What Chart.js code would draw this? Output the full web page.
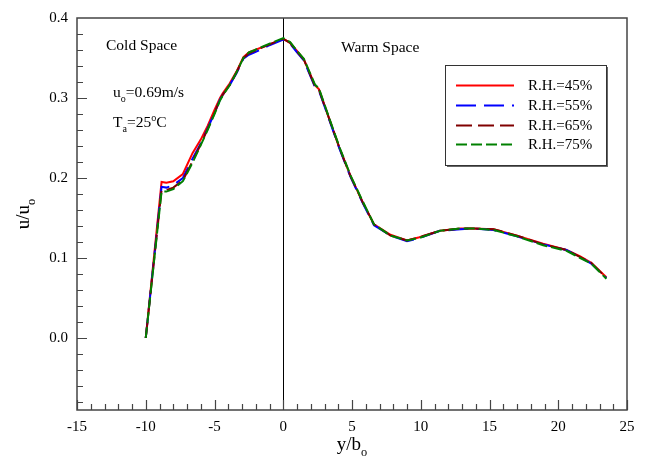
<!DOCTYPE html>
<html>
<head>
<meta charset="utf-8">
<script src="https://cdn.jsdelivr.net/npm/chart.js@4/dist/chart.umd.min.js"></script>
<style>
  html, body { margin: 0; padding: 0; background: #fff; }
  canvas { display: block; }
</style>
</head>
<body>
<canvas id="c" width="650" height="457" style="width:650px;height:457px"></canvas>
<script>
// ---- data ----
const xTickLabels = [-15, -10, -5, 0, 5, 10, 15, 20, 25];
const yTickLabels = [0.0, 0.1, 0.2, 0.3, 0.4];
const seriesNames = ['R.H.=45%', 'R.H.=55%', 'R.H.=65%', 'R.H.=75%'];

const xValues = [-10, -8.85, -8.5, -8.0, -7.3, -6.6, -6.0, -5.5, -5.0, -4.6, -4.4, -3.9, -3.4, -2.9, -2.5, -2.2, -1.0, 0, 0.5, 1.0, 1.5, 2.3, 2.6, 3.3, 4.1, 4.9, 5.8, 6.6, 7.8, 9.0, 9.9, 11.4, 12.9, 13.8, 15.3, 17.0, 18.9, 20.6, 21.6, 22.4, 23.5];

const rh45 = [0, 0.195, 0.194, 0.196, 0.205, 0.231, 0.248, 0.265, 0.285, 0.300, 0.306, 0.318, 0.333, 0.351, 0.357, 0.359, 0.367, 0.374, 0.369, 0.359, 0.348, 0.316, 0.311, 0.276, 0.237, 0.202, 0.169, 0.142, 0.129, 0.122, 0.126, 0.134, 0.137, 0.137, 0.136, 0.128, 0.118, 0.110, 0.102, 0.094, 0.076];
const rh55 = [0, 0.189, 0.188, 0.191, 0.200, 0.224, 0.243, 0.262, 0.281, 0.298, 0.304, 0.316, 0.331, 0.349, 0.354, 0.356, 0.366, 0.373, 0.368, 0.357, 0.347, 0.314, 0.309, 0.275, 0.236, 0.201, 0.168, 0.141, 0.128, 0.121, 0.125, 0.134, 0.136, 0.137, 0.135, 0.127, 0.117, 0.110, 0.101, 0.093, 0.075];
const rh65 = [0, 0.185, 0.185, 0.188, 0.197, 0.221, 0.242, 0.261, 0.281, 0.298, 0.304, 0.316, 0.332, 0.350, 0.356, 0.358, 0.367, 0.374, 0.369, 0.358, 0.348, 0.315, 0.310, 0.276, 0.237, 0.202, 0.169, 0.142, 0.128, 0.122, 0.126, 0.134, 0.137, 0.137, 0.136, 0.128, 0.117, 0.110, 0.101, 0.094, 0.075];
const rh75 = [0, 0.183, 0.183, 0.186, 0.196, 0.219, 0.241, 0.260, 0.280, 0.297, 0.303, 0.316, 0.332, 0.350, 0.357, 0.359, 0.368, 0.375, 0.370, 0.359, 0.349, 0.317, 0.312, 0.277, 0.238, 0.203, 0.170, 0.142, 0.128, 0.122, 0.125, 0.134, 0.137, 0.137, 0.135, 0.127, 0.116, 0.109, 0.100, 0.093, 0.074];

// ---- styles ----
const FONT = "'Liberation Serif', 'Times New Roman', serif";
const styles = [
  { color: '#ff0000', dash: [] },
  { color: '#0000ff', dash: [20, 8] },
  { color: '#800000', dash: [16, 6] },
  { color: '#008000', dash: [11, 4] }
];
const seriesValues = [rh45, rh55, rh65, rh75];

const datasets = seriesValues.map((vals, i) => ({
  label: seriesNames[i],
  data: xValues.map((x, k) => ({ x: x, y: vals[k] })),
  borderColor: styles[i].color,
  borderDash: styles[i].dash,
  borderWidth: 2,
  pointRadius: 0,
  fill: false,
  tension: 0,
  order: 3 - i
}));

function drawRich(ctx, parts, x, y, size) {
  let cx = x;
  for (const p of parts) {
    let fs = size, dy = 0;
    if (p.sub) { fs = size * 0.65; dy = size * 0.3; }
    if (p.sup) { fs = size * 0.65; dy = -size * 0.38; }
    ctx.font = fs + 'px ' + FONT;
    ctx.fillText(p.t, cx, y + dy);
    cx += ctx.measureText(p.t).width;
  }
  return cx - x;
}
function richWidth(ctx, parts, size) {
  let w = 0;
  for (const p of parts) {
    const fs = (p.sub || p.sup) ? size * 0.65 : size;
    ctx.font = fs + 'px ' + FONT;
    w += ctx.measureText(p.t).width;
  }
  return w;
}

const decor = {
  id: 'decor',
  beforeDatasetsDraw(chart) {
    const { ctx, chartArea: a, scales } = chart;
    const x0 = Math.round(scales.x.getPixelForValue(0)) + 0.5;
    ctx.save();
    ctx.strokeStyle = '#000';
    ctx.lineWidth = 1;
    ctx.beginPath();
    ctx.moveTo(x0, a.top);
    ctx.lineTo(x0, a.bottom);
    ctx.stroke();
    ctx.restore();
  },
  afterDraw(chart) {
    const { ctx, chartArea: a, scales } = chart;
    const xs = scales.x, ys = scales.y;
    ctx.save();
    // frame
    ctx.strokeStyle = '#444';
    ctx.lineWidth = 1.5;
    ctx.strokeRect(a.left, a.top, a.right - a.left, a.bottom - a.top);
    // x ticks (inward)
    ctx.lineWidth = 1.2;
    ctx.beginPath();
    for (let v = -15; v <= 25; v += 1) {
      const px = Math.round(xs.getPixelForValue(v)) + 0.5;
      const len = (v % 5 === 0) ? 10 : 6;
      ctx.moveTo(px, a.bottom);
      ctx.lineTo(px, a.bottom - len);
    }
    // y ticks (inward)
    for (let k = -4; k <= 19; k++) {
      const v = k * 0.02;
      const py = Math.round(ys.getPixelForValue(v)) + 0.5;
      const len = (k % 5 === 0) ? 10 : 6;
      ctx.moveTo(a.left, py);
      ctx.lineTo(a.left + len, py);
    }
    ctx.stroke();

    // annotations
    ctx.fillStyle = '#000';
    ctx.textBaseline = 'alphabetic';
    ctx.textAlign = 'left';
    const fs = 15.5;
    drawRich(ctx, [{ t: 'Cold Space' }], 106, 50, fs);
    drawRich(ctx, [{ t: 'u' }, { t: 'o', sub: true }, { t: '=0.69m/s' }], 113, 97, fs);
    drawRich(ctx, [{ t: 'T' }, { t: 'a', sub: true }, { t: '=25' }, { t: 'o', sup: true }, { t: 'C' }], 113, 127, fs);
    drawRich(ctx, [{ t: 'Warm Space' }], 341, 52, fs);

    // axis titles
    const tfs = 19;
    const xt = [{ t: 'y/b' }, { t: 'o', sub: true }];
    const xw = richWidth(ctx, xt, tfs);
    drawRich(ctx, xt, (a.left + a.right) / 2 - xw / 2, 450, tfs);
    const yt = [{ t: 'u/u' }, { t: 'o', sub: true }];
    const yw = richWidth(ctx, yt, tfs);
    ctx.save();
    ctx.translate(29, (a.top + a.bottom) / 2);
    ctx.rotate(-Math.PI / 2);
    drawRich(ctx, yt, -yw / 2, 0, tfs);
    ctx.restore();

    // legend box
    const L = { x: 445, y: 65, w: 161, h: 100 };
    ctx.fillStyle = '#666';
    ctx.fillRect(L.x + 2, L.y + L.h, L.w, 2);
    ctx.fillRect(L.x + L.w, L.y + 2, 2, L.h);
    ctx.fillStyle = '#fff';
    ctx.fillRect(L.x, L.y, L.w, L.h);
    ctx.strokeStyle = '#333';
    ctx.lineWidth = 1;
    ctx.strokeRect(L.x + 0.5, L.y + 0.5, L.w, L.h);
    chart.data.datasets.forEach((ds, i) => {
      const ry = Math.round(L.y + 20 + i * 19.8) + 0.5;
      ctx.strokeStyle = ds.borderColor;
      ctx.lineWidth = 2;
      ctx.setLineDash(ds.borderDash);
      ctx.beginPath();
      ctx.moveTo(L.x + 11, ry);
      ctx.lineTo(L.x + 69, ry);
      ctx.stroke();
      ctx.setLineDash([]);
      ctx.fillStyle = '#000';
      ctx.font = '15px ' + FONT;
      ctx.textBaseline = 'middle';
      ctx.fillText(ds.label, L.x + 83, ry + 1);
    });
    ctx.restore();
  }
};

new Chart(document.getElementById('c').getContext('2d'), {
  type: 'line',
  data: { datasets: datasets },
  options: {
    responsive: false,
    animation: false,
    devicePixelRatio: 1,
    layout: { padding: { top: 13, right: 23, left: 0, bottom: 0 } },
    plugins: { legend: { display: false }, tooltip: { enabled: false } },
    scales: {
      x: {
        type: 'linear',
        min: -15, max: 25,
        afterBuildTicks: s => { s.ticks = xTickLabels.map(v => ({ value: v })); },
        afterFit: s => { s.height = 47; },
        grid: { display: false, drawTicks: false },
        border: { display: false },
        ticks: {
          font: { family: FONT, size: 15 }, color: '#000', padding: 8,
          maxRotation: 0, autoSkip: false,
          callback: v => String(v)
        }
      },
      y: {
        type: 'linear',
        min: -0.09, max: 0.4,
        afterBuildTicks: s => { s.ticks = yTickLabels.map(v => ({ value: v })); },
        afterFit: s => { s.width = 77; },
        grid: { display: false, drawTicks: false },
        border: { display: false },
        ticks: {
          font: { family: FONT, size: 15 }, color: '#000', padding: 9,
          autoSkip: false,
          callback: v => Number(v).toFixed(1)
        }
      }
    }
  },
  plugins: [decor]
});
</script>
</body>
</html>
